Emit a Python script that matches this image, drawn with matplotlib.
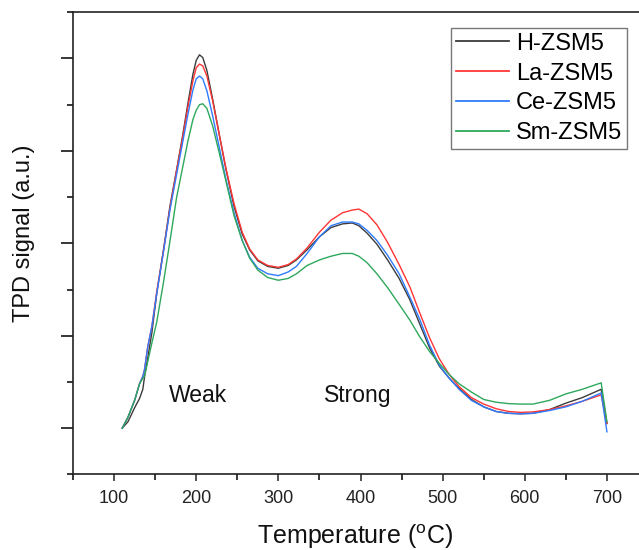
import matplotlib
matplotlib.use("Agg")
import matplotlib.pyplot as plt
from matplotlib.ticker import MultipleLocator, NullFormatter

plt.rcParams['font.family'] = ['Liberation Sans', 'DejaVu Sans']

temperature = [110, 117, 125, 131, 135, 137, 141, 146, 152, 160, 168, 176, 183, 190, 196, 200,
               204, 208, 213, 220, 228, 236, 246, 256, 265, 275, 287, 300, 312, 322, 335, 350,
               364, 378, 390, 398, 408, 420, 433, 447, 460, 472, 484, 496, 508, 520, 535, 550,
               565, 580, 595, 610, 630, 650, 670, 693, 700]

h_zsm5 = [0.00, 0.07, 0.22, 0.32, 0.42, 0.55, 0.76, 1.03, 1.46, 1.92, 2.40, 2.79, 3.14, 3.52, 3.83, 3.98,
          4.04, 4.01, 3.87, 3.56, 3.18, 2.81, 2.40, 2.10, 1.93, 1.81, 1.75, 1.73, 1.76, 1.82, 1.93, 2.07,
          2.17, 2.21, 2.22, 2.19, 2.11, 1.99, 1.82, 1.62, 1.39, 1.13, 0.87, 0.67, 0.54, 0.43, 0.31, 0.23,
          0.18, 0.16, 0.155, 0.16, 0.20, 0.27, 0.33, 0.42, 0.05]

la_zsm5 = [0.00, 0.12, 0.30, 0.48, 0.56, 0.63, 0.88, 1.10, 1.48, 1.91, 2.38, 2.78, 3.12, 3.48, 3.76, 3.90,
           3.94, 3.92, 3.81, 3.54, 3.18, 2.82, 2.43, 2.12, 1.94, 1.82, 1.76, 1.74, 1.77, 1.83, 1.95, 2.12,
           2.25, 2.33, 2.36, 2.37, 2.32, 2.20, 2.01, 1.77, 1.53, 1.25, 0.98, 0.75, 0.58, 0.45, 0.33, 0.26,
           0.21, 0.18, 0.17, 0.175, 0.20, 0.24, 0.29, 0.36, 0.05]

ce_zsm5 = [0.00, 0.12, 0.30, 0.48, 0.56, 0.63, 0.88, 1.10, 1.46, 1.90, 2.36, 2.74, 3.07, 3.40, 3.66, 3.78,
           3.81, 3.78, 3.65, 3.38, 3.04, 2.70, 2.33, 2.03, 1.85, 1.73, 1.67, 1.65, 1.69, 1.75, 1.89, 2.07,
           2.19, 2.23, 2.23, 2.21, 2.14, 2.03, 1.87, 1.67, 1.42, 1.18, 0.90, 0.68, 0.54, 0.42, 0.30, 0.23,
           0.18, 0.16, 0.155, 0.16, 0.19, 0.23, 0.29, 0.38, -0.04]

sm_zsm5 = [0.00, 0.12, 0.30, 0.48, 0.54, 0.56, 0.72, 0.92, 1.15, 1.57, 2.02, 2.49, 2.80, 3.11, 3.34, 3.44,
           3.50, 3.51, 3.46, 3.27, 2.98, 2.68, 2.30, 2.03, 1.84, 1.71, 1.63, 1.60, 1.62, 1.67, 1.76, 1.82,
           1.86, 1.89, 1.89, 1.86, 1.79, 1.67, 1.52, 1.34, 1.17, 0.99, 0.83, 0.70, 0.58, 0.48, 0.39, 0.31,
           0.28, 0.265, 0.26, 0.26, 0.30, 0.37, 0.42, 0.49, 0.07]

series_names = ['H-ZSM5', 'La-ZSM5', 'Ce-ZSM5', 'Sm-ZSM5']
series_values = [h_zsm5, la_zsm5, ce_zsm5, sm_zsm5]
colors = ['#3c3c3c', '#ff3535', '#2f7bff', '#2ea85c']

annot_labels = ['Weak', 'Strong']
annot_x = [202, 397]
annot_y = [0.35, 0.35]

fig = plt.figure(figsize=(6.39, 5.5), dpi=100)
ax = fig.add_axes([73 / 639, 75.7 / 550, 575 / 639, 462 / 550])

for name, vals, c in zip(series_names, series_values, colors):
    ax.plot(temperature, vals, color=c, lw=1.0, label=name)

ax.set_xlim(50, 750)
ax.set_ylim(-0.5, 4.5)
ax.xaxis.set_major_locator(MultipleLocator(100))
ax.xaxis.set_minor_locator(MultipleLocator(50))
ax.yaxis.set_major_locator(MultipleLocator(1))
ax.yaxis.set_minor_locator(MultipleLocator(0.5))
ax.yaxis.set_major_formatter(NullFormatter())
ax.tick_params(axis='x', which='major', direction='out', length=5, width=1.1, labelsize=13, pad=6, colors='#222222')
ax.tick_params(axis='x', which='minor', direction='out', length=4, width=1.1)
ax.tick_params(axis='y', which='major', direction='out', length=9, width=1.1)
ax.tick_params(axis='y', which='minor', direction='out', length=4.5, width=1.1)
ax.spines['right'].set_visible(False)
for s in ['left', 'bottom', 'top']:
    ax.spines[s].set_linewidth(1.2)
    ax.spines[s].set_color('#222222')

for t, x, y in zip(annot_labels, annot_x, annot_y):
    ax.text(x, y, t, ha='center', va='center', fontsize=16.5, color='#111111')

fig.text(354.5 / 639, 1 - 537 / 550, 'Temperature ($\\mathregular{^{o}}$C)', ha='center', va='center',
         fontsize=18, color='#111111')
fig.text(24 / 639, 1 - 233.5 / 550, 'TPD signal (a.u.)', ha='center', va='center', rotation=90,
         fontsize=17, color='#111111')

leg = ax.legend(loc='upper right', bbox_to_anchor=(627 / 639, 1 - 28 / 550), bbox_transform=fig.transFigure,
                borderaxespad=0, fontsize=17, handlelength=2.25, handletextpad=0.3, labelspacing=0.33,
                borderpad=0.2, fancybox=False, frameon=True)
leg.get_frame().set_edgecolor('#555555')
leg.get_frame().set_linewidth(1.0)
for line in leg.get_lines():
    line.set_linewidth(1.3)

fig.savefig('out.png', dpi=100)
